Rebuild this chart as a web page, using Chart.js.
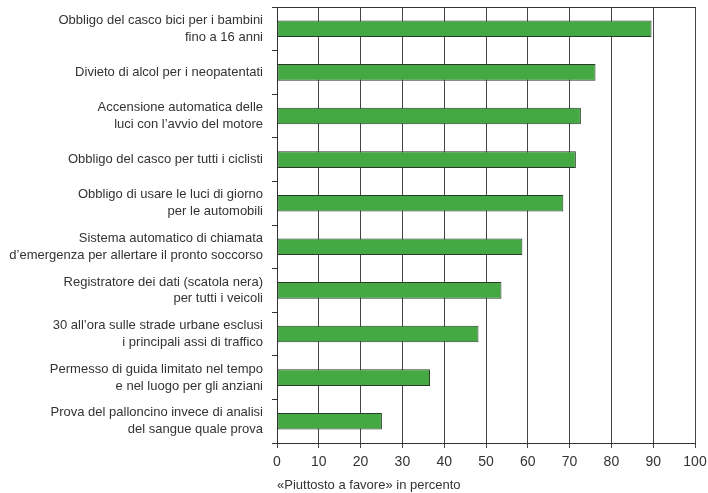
<!DOCTYPE html>
<html>
<head>
<meta charset="utf-8">
<script src="https://cdn.jsdelivr.net/npm/chart.js@4"></script>
<style>
  html, body { margin: 0; padding: 0; background: #fff; }
  #wrap { width: 708px; height: 493px; }
</style>
</head>
<body>
<div id="wrap"><canvas id="chart"></canvas></div>
<script>
const categories = [
  ['Obbligo del casco bici per i bambini', 'fino a 16 anni'],
  'Divieto di alcol per i neopatentati',
  ['Accensione automatica delle', 'luci con l\u2019avvio del motore'],
  'Obbligo del casco per tutti i ciclisti',
  ['Obbligo di usare le luci di giorno', 'per le automobili'],
  ['Sistema automatico di chiamata', 'd\u2019emergenza per allertare il pronto soccorso'],
  ['Registratore dei dati (scatola nera)', 'per tutti i veicoli'],
  ['30 all\u2019ora sulle strade urbane esclusi', 'i principali assi di traffico'],
  ['Permesso di guida limitato nel tempo', 'e nel luogo per gli anziani'],
  ['Prova del palloncino invece di analisi', 'del sangue quale prova']
];
const favore = [89.6, 76.2, 72.7, 71.5, 68.5, 58.7, 53.7, 48.2, 36.6, 25.1];
const xMin = 0, xMax = 100, xStep = 10;
const xTitle = '\u00abPiuttosto a favore\u00bb in percento';

const fontFamily = '"Liberation Sans", Arial, sans-serif';

// linea superiore della cornice
const frame = {
  id: 'frame',
  afterDatasetsDraw(chart) {
    const { ctx, chartArea: a } = chart;
    ctx.save();
    ctx.strokeStyle = '#333';
    ctx.lineWidth = 1;
    ctx.beginPath();
    ctx.moveTo(a.left, Math.round(a.top) + 0.5);
    ctx.lineTo(a.right, Math.round(a.top) + 0.5);
    ctx.stroke();
    ctx.restore();
  }
};

new Chart(document.getElementById('chart'), {
  type: 'bar',
  data: {
    labels: categories,
    datasets: [{
      data: favore,
      backgroundColor: '#45a943',
      borderColor: '#2a3b2a',
      borderWidth: 1,
      borderSkipped: false,
      categoryPercentage: 0.38,
      barPercentage: 1
    }]
  },
  options: {
    indexAxis: 'y',
    responsive: true,
    maintainAspectRatio: false,
    animation: false,
    layout: { padding: { top: 7, right: 13, bottom: 0, left: 0 } },
    plugins: {
      legend: { display: false },
      tooltip: { enabled: false }
    },
    scales: {
      x: {
        min: xMin,
        max: xMax,
        afterFit(scale) {
          scale.height = 50;
          scale.paddingLeft = 0;
          scale.paddingRight = 0;
        },
        grid: { display: true, drawOnChartArea: true, color: '#444', lineWidth: 1, tickLength: 5 },
        border: { color: '#333', width: 1 },
        ticks: { stepSize: xStep, color: '#333', font: { family: fontFamily, size: 14 }, padding: 6 },
        title: {
          display: true,
          text: xTitle,
          align: 'start',
          color: '#333',
          font: { family: fontFamily, size: 13 },
          padding: { top: 3, bottom: 0 }
        }
      },
      y: {
        afterFit(scale) {
          scale.width = 277;
          scale.paddingTop = 0;
          scale.paddingBottom = 0;
        },
        grid: { drawOnChartArea: false, offset: true, tickLength: 5, color: '#333' },
        border: { color: '#333', width: 1 },
        ticks: { color: '#333', font: { family: fontFamily, size: 13, lineHeight: 1.3 }, padding: 9 }
      }
    }
  },
  plugins: [frame]
});
</script>
</body>
</html>
